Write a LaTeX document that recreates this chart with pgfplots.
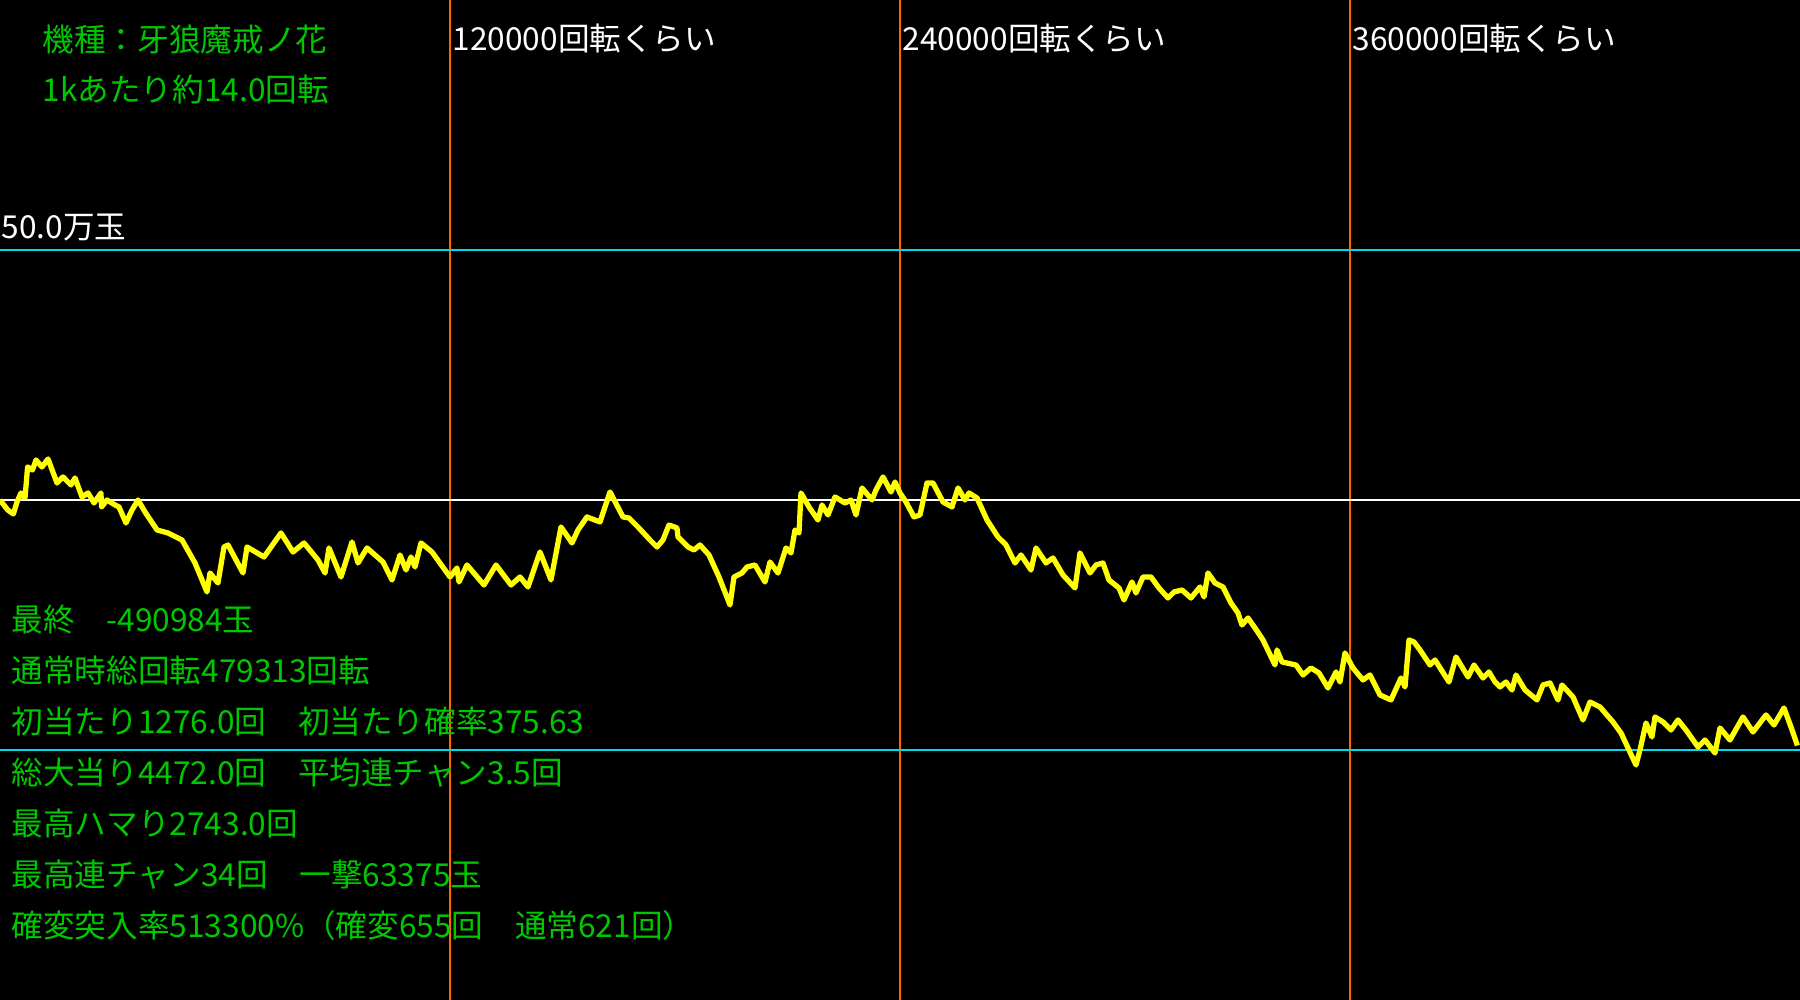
\documentclass[border=0pt]{standalone}
\usepackage{pgfplots}
\pgfplotsset{compat=1.18}
\usepackage{fontspec}
\setmainfont{Noto Sans CJK JP}
\definecolor{tgreen}{RGB}{0,200,0}
\definecolor{gline}{RGB}{255,100,0}
\definecolor{cline}{RGB}{0,220,230}
\definecolor{yline}{RGB}{255,255,0}
\pgfplotstableread{
x y
0 0
2050 -20000
3570 -28000
4530 -4000
5600 14000
6670 4000
7360 66000
8670 60000
9600 80000
11200 66000
12800 82000
15200 34000
16800 46000
18930 30000
20000 44000
21870 6000
23470 14000
25070 -6000
26930 14000
27070 -14000
28530 0
30670 -10000
31730 -14000
33600 -46000
35200 -20000
36800 0
38670 -24000
41870 -60000
44800 -66000
48530 -80000
52000 -126000
55200 -184000
56000 -146000
58130 -166000
59730 -94000
60800 -90000
64800 -146000
65870 -94000
70400 -114000
74930 -66000
78130 -104000
81070 -86000
84800 -120000
86670 -146000
87730 -96000
90930 -154000
93870 -84000
95470 -126000
97870 -96000
102130 -124000
104530 -160000
106670 -110000
108270 -140000
109600 -114000
110670 -134000
112270 -86000
115200 -104000
120000 -154000
121870 -136000
122400 -164000
124530 -130000
129070 -170000
132270 -130000
136270 -170000
138670 -154000
140800 -174000
144000 -104000
146930 -160000
149600 -54000
152530 -86000
154130 -60000
156530 -34000
160000 -44000
162670 16000
166130 -34000
167730 -36000
170130 -54000
173330 -80000
175200 -94000
176800 -80000
178400 -50000
180530 -56000
180800 -74000
183470 -94000
185070 -100000
186670 -90000
189070 -110000
191730 -154000
194670 -210000
195730 -154000
197870 -146000
199200 -134000
201330 -130000
204000 -164000
205330 -124000
207470 -146000
209600 -96000
210930 -106000
212000 -60000
213070 -66000
213600 14000
215730 -14000
218130 -40000
219200 -10000
220800 -30000
222670 6000
225330 -6000
226930 0
228270 -30000
229870 24000
232530 0
233600 20000
235470 46000
237600 16000
238670 36000
240000 14000
241600 -4000
243730 -34000
245330 -30000
247200 34000
248800 34000
251470 -4000
253870 -14000
255470 24000
257330 0
258400 14000
260530 4000
263200 -40000
266130 -74000
268270 -90000
270670 -126000
272270 -110000
274930 -140000
276270 -96000
278930 -126000
280800 -116000
283470 -150000
286670 -176000
288000 -106000
290670 -146000
292270 -130000
294130 -126000
295730 -160000
298400 -176000
299730 -200000
301870 -164000
302930 -186000
304800 -154000
306930 -154000
309070 -176000
311470 -196000
313070 -184000
315200 -180000
317600 -196000
320000 -174000
321070 -194000
322130 -146000
324000 -166000
326130 -174000
328270 -206000
330130 -226000
331200 -250000
332800 -236000
334670 -256000
336800 -280000
340000 -330000
340530 -300000
341870 -324000
345600 -330000
347470 -350000
349600 -336000
351730 -346000
354130 -376000
356270 -344000
357330 -364000
358670 -306000
360800 -336000
363470 -360000
365330 -350000
368000 -390000
370930 -400000
373600 -356000
374670 -374000
375730 -280000
377070 -284000
378670 -300000
381330 -330000
382670 -320000
386400 -364000
388270 -314000
391470 -354000
393070 -330000
395470 -356000
397070 -344000
398670 -364000
400000 -374000
401600 -364000
403200 -380000
404270 -350000
406670 -380000
409870 -400000
411470 -370000
413330 -366000
415470 -400000
416530 -370000
419470 -394000
422130 -440000
424000 -404000
426670 -414000
430130 -444000
432270 -466000
436270 -530000
437330 -500000
438930 -446000
440530 -474000
441330 -434000
443470 -444000
445600 -460000
447470 -440000
449600 -460000
452800 -494000
454670 -480000
457330 -506000
458670 -456000
461330 -480000
464800 -434000
467470 -464000
470930 -430000
473070 -450000
475730 -416000
477600 -454000
479313 -490984
}\balls
\begin{document}
\begin{tikzpicture}
\begin{axis}[
  at={(0,0)}, anchor=south west,
  width=180mm, height=100mm, scale only axis,
  xmin=0, xmax=480000, ymin=-1000000, ymax=1000000,
  axis background/.style={fill=black},
  axis line style={draw=none},
  xtick={120000,240000,360000}, ytick={-500000,500000},
  xticklabels={}, yticklabels={},
  major tick length=0pt,
  grid=major,
  x grid style={gline, line width=0.35pt},
  y grid style={cline, line width=0.35pt},
  clip=true,
]
\addplot[white, line width=0.75pt, no marks] coordinates {(0,0) (480000,0)};
\addplot[yline, line width=1.5pt, line join=round, no marks] table[x=x, y=y] {\balls};
\end{axis}
\begin{scope}[x=0.1mm, y=-0.1mm, shift={(0,100mm)}, every node/.style={anchor=base west, inner sep=0pt, font=\fontsize{9pt}{10pt}\selectfont}]
\node[text=tgreen] at (42,52) {機種：牙狼魔戒ノ花};
\node[text=tgreen] at (42,102) {1kあたり約14.0回転};
\node[text=white] at (452,51) {120000回転くらい};
\node[text=white] at (902,51) {240000回転くらい};
\node[text=white] at (1352,51) {360000回転くらい};
\node[text=white] at (1,239) {50.0万玉};
\node[text=tgreen] at (11,632) {最終　-490984玉};
\node[text=tgreen] at (11,683) {通常時総回転479313回転};
\node[text=tgreen] at (11,734) {初当たり1276.0回　初当たり確率375.63};
\node[text=tgreen] at (11,785) {総大当り4472.0回　平均連チャン3.5回};
\node[text=tgreen] at (11,836) {最高ハマり2743.0回};
\node[text=tgreen] at (11,887) {最高連チャン34回　一撃63375玉};
\node[text=tgreen] at (11,938) {確変突入率513300\%（確変655回　通常621回）};
\end{scope}
\pgfresetboundingbox
\path[use as bounding box] (0,0) rectangle (180mm,100mm);
\end{tikzpicture}
\end{document}
